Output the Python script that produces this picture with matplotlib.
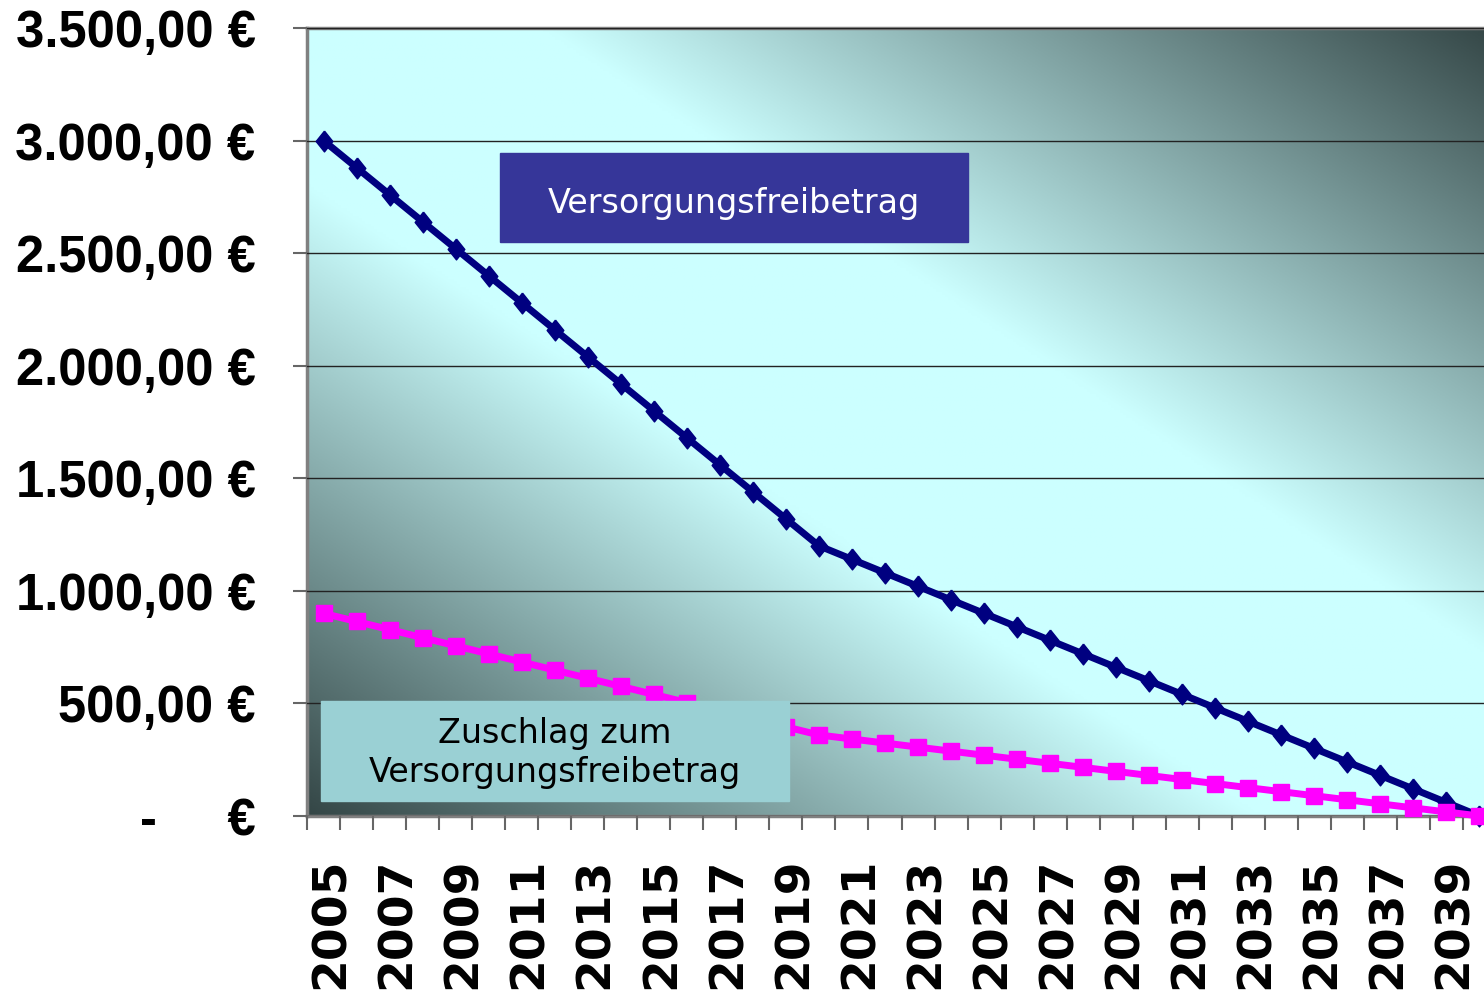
import numpy as np
import matplotlib
matplotlib.use("Agg")
from matplotlib import pyplot as plt
from matplotlib.patches import Rectangle
from matplotlib.transforms import ScaledTranslation

# Data: Versorgungsfreibetrag and Zuschlag per year
years = ["2005", "2006", "2007", "2008", "2009", "2010", "2011", "2012", "2013",
         "2014", "2015", "2016", "2017", "2018", "2019", "2020", "2021", "2022",
         "2023", "2024", "2025", "2026", "2027", "2028", "2029", "2030", "2031",
         "2032", "2033", "2034", "2035", "2036", "2037", "2038", "2039", "2040"]
freibetrag = [3000, 2880, 2760, 2640, 2520, 2400, 2280, 2160, 2040, 1920, 1800,
              1680, 1560, 1440, 1320, 1200, 1140, 1080, 1020, 960, 900, 840, 780,
              720, 660, 600, 540, 480, 420, 360, 300, 240, 180, 120, 60, 0]
zuschlag = [900, 864, 828, 792, 756, 720, 684, 648, 612, 576, 540, 504, 468, 432,
            396, 360, 342, 324, 306, 288, 270, 252, 234, 216, 198, 180, 162, 144,
            126, 108, 90, 72, 54, 36, 18, 0]
y_ticks = [0, 500, 1000, 1500, 2000, 2500, 3000, 3500]
y_labels = ["-     €", "500,00 €", "1.000,00 €", "1.500,00 €", "2.000,00 €",
            "2.500,00 €", "3.000,00 €", "3.500,00 €"]

W, H = 1484, 993
fig = plt.figure(figsize=(W / 100, H / 100), dpi=100)
ax = fig.add_axes([307 / W, 1 - 816 / H, (1496 - 307) / W, (816 - 28) / H])

# Diagonal gradient background (dark corners bottom-left / top-right)
light = np.array([204, 255, 255]) / 255
dark = np.array([52, 70, 70]) / 255
gx = np.linspace(0, 1, 400)
gy = np.linspace(1, 0, 300)
GX, GY = np.meshgrid(gx, gy)
t = np.abs(GX + GY - 1)
f = np.clip((t - 0.2) / 0.8, 0, 1)
img = light[None, None, :] * (1 - f[..., None]) + dark[None, None, :] * f[..., None]
ax.imshow(img, extent=[0, 1, 0, 1], transform=ax.transAxes, aspect="auto", zorder=0)

x = np.arange(len(years))
diamond = [(0, 1), (0.8, 0), (0, -1), (-0.8, 0), (0, 1)]
ax.plot(x, freibetrag, color="#000080", lw=5, marker=diamond, ms=15,
        zorder=3, clip_on=False)
ax.plot(x, zuschlag, color="#FF00FF", lw=5, marker="s", ms=12,
        zorder=3, clip_on=False)

ax.set_xlim(-0.5, len(years) - 0.5)
ax.set_ylim(0, 3500)
ax.set_yticks(y_ticks)
ax.set_yticklabels(y_labels, fontfamily="Liberation Sans", fontweight="bold",
                   fontsize=36.5)
ax.yaxis.grid(True, color="#222222", lw=1, zorder=1)
ax.set_axisbelow(False)
ax.tick_params(axis="y", length=10, width=1.5, color="#666666", pad=27)

ax.set_xticks(x[::2])
ax.set_xticklabels(years[::2], rotation=90, fontfamily="DejaVu Sans",
                   fontweight="bold", fontsize=34, va="top")
ax.set_xticks(np.arange(-0.5, len(years), 1), minor=True)
ax.tick_params(axis="x", which="major", length=0, pad=30)
ax.tick_params(axis="x", which="minor", length=10, width=1.5, color="#666666")
for lbl in ax.get_xticklabels():
    lbl.set_transform(lbl.get_transform() + ScaledTranslation(0.08, 0, fig.dpi_scale_trans))

for side in ["left", "bottom", "top"]:
    ax.spines[side].set_color("#808080")
    ax.spines[side].set_linewidth(2.5)
ax.spines["right"].set_visible(False)

# Label boxes
fig.add_artist(Rectangle((500 / W, 1 - 242 / H), 468 / W, 89 / H,
                         transform=fig.transFigure, color="#363699", zorder=5))
fig.text(734 / W, 1 - 203 / H, "Versorgungsfreibetrag", color="white",
         fontsize=24, fontfamily="DejaVu Sans", ha="center", va="center", zorder=6)
fig.add_artist(Rectangle((321 / W, 1 - 801 / H), 468 / W, 100 / H,
                         transform=fig.transFigure, color="#9AD0D4", zorder=5))
fig.text(555 / W, 1 - 753 / H, "Zuschlag zum\nVersorgungsfreibetrag", color="black",
         fontsize=24, fontfamily="DejaVu Sans", ha="center", va="center",
         multialignment="center", zorder=6)

fig.savefig("out.png", dpi=100)
